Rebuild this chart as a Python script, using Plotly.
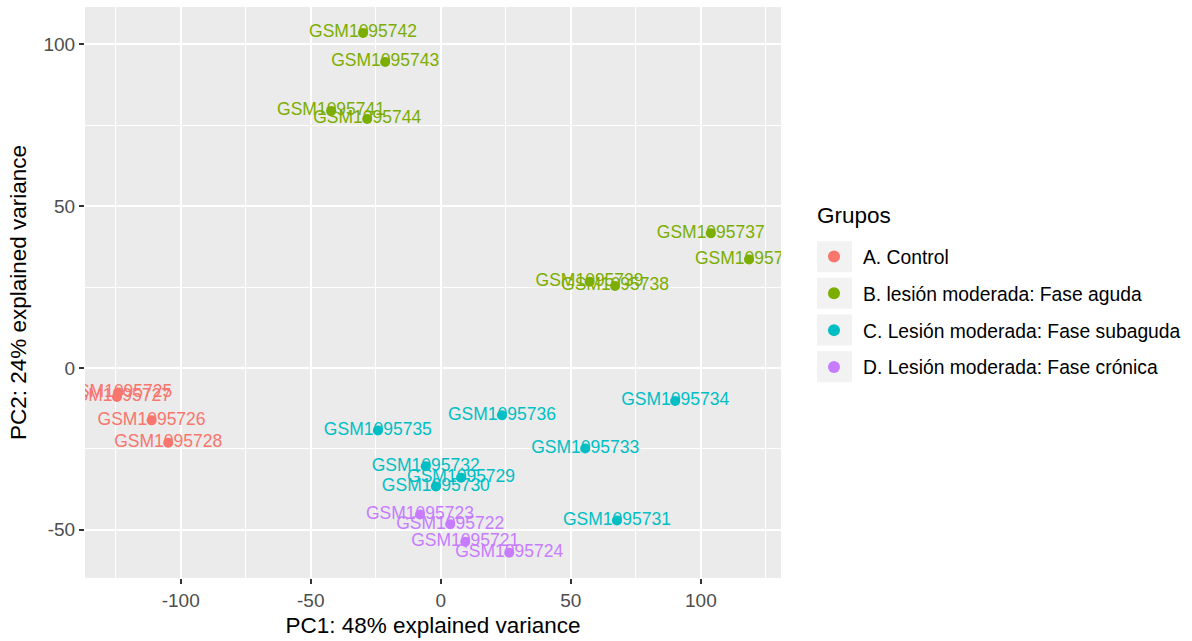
import plotly.graph_objects as go

# PCA scores per sample
samples = [
    "GSM1095725", "GSM1095727", "GSM1095726", "GSM1095728",
    "GSM1095742", "GSM1095743", "GSM1095741", "GSM1095744",
    "GSM1095737", "GSM1095740", "GSM1095739", "GSM1095738",
    "GSM1095736", "GSM1095735", "GSM1095732", "GSM1095729",
    "GSM1095730", "GSM1095733", "GSM1095734", "GSM1095731",
    "GSM1095723", "GSM1095722", "GSM1095721", "GSM1095724",
]
pc1 = [
    -124.0, -124.5, -111.2, -104.8,
    -29.9, -21.4, -42.2, -28.3,
    103.8, 118.5, 57.2, 67.0,
    23.5, -24.2, -5.8, 7.8,
    -1.9, 55.5, 90.1, 67.7,
    -8.0, 3.6, 9.4, 26.3,
]
pc2 = [
    -7.6, -9.0, -16.2, -23.1,
    103.5, 94.5, 79.4, 76.9,
    41.6, 33.5, 26.6, 25.3,
    -14.6, -19.3, -30.4, -33.9,
    -36.6, -24.9, -10.2, -47.1,
    -45.3, -48.3, -53.7, -57.1,
]
group_of_sample = (["A"] * 4 + ["B"] * 8 + ["C"] * 8 + ["D"] * 4)

group_codes = ["A", "B", "C", "D"]
group_names = [
    "A. Control",
    "B. lesión moderada: Fase aguda",
    "C. Lesión moderada: Fase subaguda",
    "D. Lesión moderada: Fase crónica",
]
group_colors = ["#F8766D", "#7CAE00", "#00BFC4", "#C77CFF"]

x_ticks = [-100, -50, 0, 50, 100]
y_ticks = [-50, 0, 50, 100]

FONT = "Liberation Sans, Arial, sans-serif"

fig = go.Figure()

# sample labels (drawn beneath the points)
for code, color in zip(group_codes, group_colors):
    idx = [i for i, g in enumerate(group_of_sample) if g == code]
    fig.add_trace(go.Scatter(
        x=[pc1[i] for i in idx], y=[pc2[i] for i in idx],
        text=[samples[i] for i in idx],
        mode="text", textposition="middle center",
        textfont=dict(family=FONT, size=17.5, color=color),
        showlegend=False, hoverinfo="skip", cliponaxis=True,
    ))

# points
for code, name, color in zip(group_codes, group_names, group_colors):
    idx = [i for i, g in enumerate(group_of_sample) if g == code]
    fig.add_trace(go.Scatter(
        x=[pc1[i] for i in idx], y=[pc2[i] for i in idx],
        mode="markers", name=name, legendgroup=code,
        marker=dict(color=color, size=10, line=dict(width=0)),
        text=[samples[i] for i in idx],
    ))

# pixel helpers for paper coordinates
L, R, T, B = 85, 781, 7, 578


def px_x(p):
    return (p - L) / (R - L)


def px_y(p):
    return (B - p) / (B - T)


# grey key backgrounds behind the legend symbols
key_rows = [256.7, 293.3, 330.0, 366.7]
for yc in key_rows:
    fig.add_shape(
        type="rect", xref="paper", yref="paper", layer="below",
        x0=px_x(817), x1=px_x(852),
        y0=px_y(yc + 15.5), y1=px_y(yc - 15.5),
        fillcolor="#F2F2F2", line=dict(width=0),
    )

# legend heading
fig.add_annotation(
    text="Grupos", xref="paper", yref="paper",
    x=px_x(815), y=px_y(215), xanchor="left", yanchor="middle",
    showarrow=False, font=dict(family=FONT, size=22.5, color="black"),
)

axis_common = dict(
    showgrid=True, gridcolor="white", gridwidth=2,
    zeroline=False, showline=False,
    ticks="outside", ticklen=5, tickwidth=2, tickcolor="#333333",
    tickfont=dict(family=FONT, size=19, color="#4D4D4D"),
    title_font=dict(family=FONT, size=22.5, color="black"),
)

fig.update_layout(
    width=1192, height=641,
    margin=dict(l=L, r=1192 - R, t=T, b=641 - B, autoexpand=False),
    paper_bgcolor="white", plot_bgcolor="#EBEBEB",
    xaxis=dict(
        range=[-136.8, 130.8], tickvals=x_ticks,
        ticktext=[str(v) for v in x_ticks],
        minor=dict(showgrid=True, gridcolor="white", gridwidth=1,
                   tickvals=[-125, -75, -25, 25, 75, 125], ticks=""),
        title=dict(text="PC1: 48% explained variance", standoff=7),
        **axis_common,
    ),
    yaxis=dict(
        range=[-64.9, 111.5], tickvals=y_ticks,
        ticktext=[str(v) for v in y_ticks],
        minor=dict(showgrid=True, gridcolor="white", gridwidth=1,
                   tickvals=[-25, 25, 75], ticks=""),
        title=dict(text="PC2: 24% explained variance", standoff=10),
        **axis_common,
    ),
    legend=dict(
        font=dict(family=FONT, size=19.3, color="black"),
        x=px_x(805), xanchor="left",
        y=px_y(237.5), yanchor="top",
        traceorder="grouped", tracegroupgap=8.7, itemwidth=48,
        itemsizing="constant", bgcolor="rgba(0,0,0,0)",
    ),
    showlegend=True,
)

fig.write_html("out.html")
